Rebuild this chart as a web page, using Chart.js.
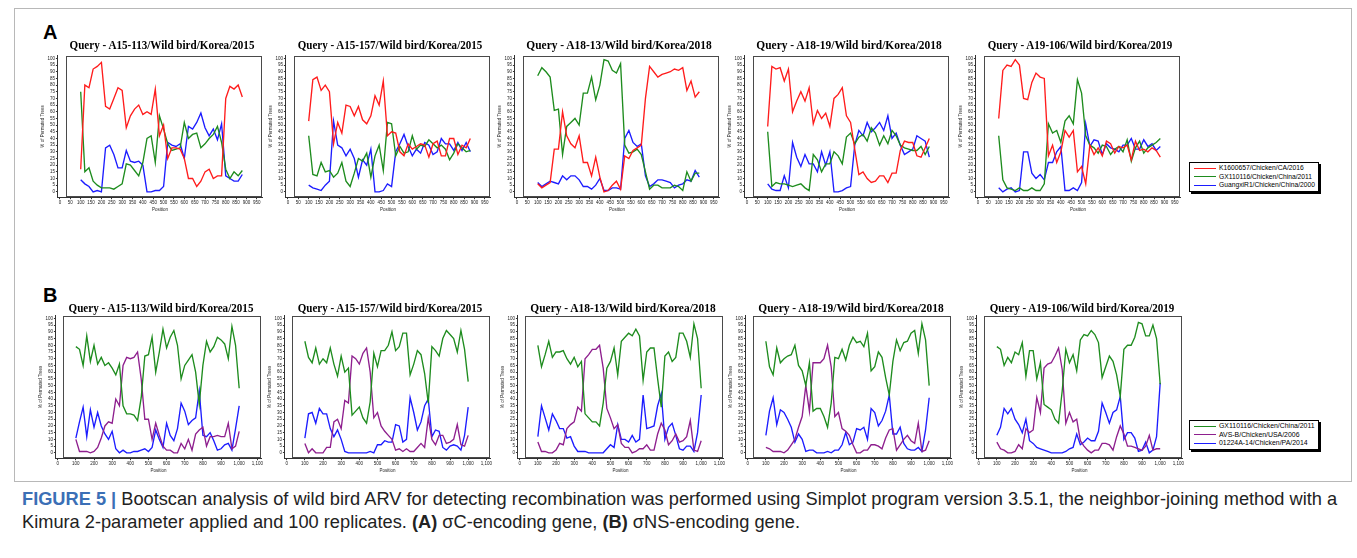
<!DOCTYPE html>
<html>
<head>
<meta charset="utf-8">
<script src="https://cdn.jsdelivr.net/npm/chart.js@4.4.1/dist/chart.umd.min.js"></script>
<style>
  body { margin: 0; width: 1357px; height: 558px; position: relative; overflow: hidden; background: #fff; font-family: "Liberation Sans", Arial, sans-serif; }
  canvas { position: absolute; }
  .title { position: absolute; font: bold 12.3px "Liberation Serif", "Times New Roman", serif; white-space: nowrap; color: #000; }
  .letter { position: absolute; font: bold 20px "Liberation Sans", Arial, sans-serif; color: #000; }
  .legend { position: absolute; width: 128px; border: 1px solid #000; box-shadow: 2px 2px 0 #000; background: #fff; padding: 1px 0; }
  .legend div { height: 8.5px; font-size: 7px; line-height: 8.5px; white-space: nowrap; }
  .legend span { display: inline-block; width: 22px; height: 0; border-top: 1.5px solid; vertical-align: middle; margin: 0 3px 0 4px; }
  .frame { position: absolute; left: 14px; top: 8px; width: 1336px; height: 472px; border: 1px solid #b8b8b8; }
  .cap { position: absolute; left: 22px; white-space: nowrap; color: #222; font-size: 15px; }
  .cap b.fig { color: #3b6fb6; }
</style>
</head>
<body>
<div class="frame"></div>
<div class="letter" style="left:43px;top:21px">A</div>
<div class="letter" style="left:43px;top:284px">B</div>
<div class="cap" id="cap1" style="top:489px"><b class="fig">FIGURE 5 |</b> Bootscan analysis of wild bird ARV for detecting recombination was performed using Simplot program version 3.5.1, the neighbor-joining method with a</div>
<div class="cap" id="cap2" style="top:512px">Kimura 2-parameter applied and 100 replicates. <b>(A)</b> &sigma;C-encoding gene, <b>(B)</b> &sigma;NS-encoding gene.</div>
<script>
// window positions (nt)
const posA = [100,120,140,160,180,200,220,240,260,280,300,320,340,360,380,400,420,440,460,480,500,520,540,560,580,600,620,640,660,680,700,720,740,760,780,800,820,840,860,880];
const posB = [100,120,140,160,180,200,220,240,260,280,300,320,340,360,380,400,420,440,460,480,500,520,540,560,580,600,620,640,660,680,700,720,740,760,780,800,820,840,860,880,900,920,940,960,980,1000];

const xTicksA = [0,50,100,150,200,250,300,350,400,450,500,550,600,650,700,750,800,850,900,950];
const xTickLabelsA = ['0','50','100','150','200','250','300','350','400','450','500','550','600','650','700','750','800','850','900','950'];
const xTicksB = [0,100,200,300,400,500,600,700,800,900,1000,1100];
const xTickLabelsB = ['0','100','200','300','400','500','600','700','800','900','1,000','1,100'];
const yTicks = [0,5,10,15,20,25,30,35,40,45,50,55,60,65,70,75,80,85,90,95,100];

const legendA = ['K1600657/Chicken/CA/2016', 'GX110116/Chicken/China/2011', 'GuangxiR1/Chicken/China/2000'];
const legendB = ['GX110116/Chicken/China/2011', 'AVS-B/Chicken/USA/2006', '01224A-14/Chicken/PA/2014'];

// A: sigma C gene
const a1Red   = [17,80,78,92,94,97,64,62,70,78,76,48,57,62,65,58,60,58,77,42,50,25,33,33,32,25,10,10,4,8,15,17,10,12,12,70,79,77,80,71];
const a1Green = [75,15,18,8,5,3,3,3,2,4,6,21,20,16,12,22,40,42,22,57,47,36,31,32,33,52,40,43,44,33,36,40,43,49,37,17,10,15,12,16];
const a1Blue  = [9,6,4,0,1,0,33,35,28,18,18,31,23,22,23,20,0,0,1,1,4,37,35,34,36,25,49,47,52,59,48,42,47,39,51,12,10,8,8,13];

const a2Red   = [53,84,86,76,80,75,36,52,44,65,64,57,64,54,51,57,72,65,83,42,45,44,30,27,36,32,34,36,35,26,36,38,27,27,40,40,28,35,33,40];
const a2Green = [42,13,12,22,15,16,11,14,22,8,4,14,25,23,29,11,27,35,16,52,51,27,34,29,30,42,32,35,34,39,36,33,35,32,24,29,36,33,30,31];
const a2Blue  = [5,3,2,1,5,8,53,35,33,27,32,25,11,24,20,32,0,0,1,6,4,30,36,43,34,27,32,29,37,35,28,30,40,36,36,31,37,31,37,30];

const a3Red   = [6,3,5,7,32,32,60,42,36,33,42,22,22,12,26,11,0,1,5,8,2,27,25,31,33,35,70,94,90,86,88,89,90,92,91,93,76,83,71,75];
const a3Green = [87,93,90,86,61,62,28,49,52,55,50,74,74,86,69,80,99,98,91,89,96,35,29,30,32,28,15,2,5,5,3,3,3,5,4,1,15,8,14,14];
const a3Blue  = [7,4,6,8,7,6,12,9,12,12,9,4,4,2,5,10,1,1,3,3,2,40,46,37,34,36,12,4,6,9,9,8,7,3,5,6,9,8,16,11];

const a4Red   = [49,94,92,93,83,92,60,68,75,68,78,51,61,55,59,49,70,73,78,57,52,32,13,15,10,7,8,12,12,7,14,14,31,38,37,37,27,26,33,40];
const a4Green = [45,4,7,6,6,5,4,5,6,3,1,28,24,15,21,21,30,27,21,41,44,36,41,43,38,48,44,35,42,36,46,42,35,33,32,31,31,34,28,34];
const a4Blue  = [6,2,1,1,12,3,37,26,19,28,21,21,15,30,20,30,0,0,1,3,4,35,46,42,52,45,48,52,46,57,40,44,35,28,30,32,42,40,38,26];

const a5Red   = [55,91,95,94,99,95,70,69,82,89,86,85,27,35,22,30,46,41,46,15,19,6,35,28,33,27,38,36,29,34,33,35,24,38,31,32,30,33,31,26];
const a5Green = [42,9,3,2,1,3,1,1,3,1,1,6,51,44,46,37,53,57,51,84,74,42,35,33,29,35,34,28,32,34,30,39,23,33,38,29,33,35,37,40];
const a5Blue  = [3,0,2,3,0,1,30,30,14,10,13,9,22,22,30,34,1,1,3,1,7,51,34,39,38,28,36,33,32,30,35,35,40,32,32,39,34,36,31,34];

// B: sigma NS gene
const b1Green  = [79,77,65,87,68,80,66,71,65,67,63,58,66,35,29,29,28,24,41,72,73,86,60,75,92,78,86,91,80,55,65,69,73,60,36,65,83,75,79,86,84,81,70,94,80,48];
const b1Purple = [10,1,1,1,0,1,4,11,20,23,22,40,35,65,71,70,71,75,55,25,25,10,22,13,5,2,2,0,0,7,3,10,2,14,17,19,5,12,12,13,12,12,22,3,5,16];
const b1Blue   = [11,23,34,12,32,19,30,20,14,10,16,3,0,2,0,0,1,1,2,3,1,4,17,10,4,22,13,9,18,37,31,21,24,26,46,13,12,15,9,2,3,6,7,2,18,35];

const b2Green  = [83,71,67,78,66,70,67,78,66,57,72,60,63,28,31,34,26,22,38,74,64,76,76,80,90,76,79,89,89,58,66,76,73,59,37,79,76,72,85,91,88,85,75,91,77,53];
const b2Purple = [7,0,3,0,0,0,4,4,23,25,18,39,37,72,70,66,74,78,60,26,30,20,16,13,10,2,3,1,3,1,1,4,7,4,26,10,6,13,13,7,8,10,21,6,5,13];
const b2Blue   = [11,29,30,22,33,29,29,18,12,17,10,1,0,0,0,0,0,0,1,0,6,6,9,8,8,21,20,8,10,41,30,17,23,35,40,12,17,16,4,2,5,6,5,2,13,34];

const b3Green  = [80,64,73,83,71,75,75,76,70,66,71,64,68,29,26,23,23,20,37,63,68,78,58,83,86,89,87,92,87,54,75,78,78,55,34,72,75,68,71,89,89,83,71,96,85,48];
const b3Purple = [8,1,1,0,0,2,7,6,18,21,23,34,31,70,73,77,77,80,63,33,26,18,21,7,4,4,0,1,3,3,6,2,2,14,22,17,6,9,14,8,9,12,24,2,1,9];
const b3Blue   = [12,35,26,17,29,24,18,18,11,12,5,1,1,1,0,0,0,0,0,3,6,4,21,10,10,8,13,8,10,43,18,19,20,35,44,10,19,22,13,3,2,5,5,1,15,43];

const b4Green  = [83,64,58,78,67,70,72,73,80,65,61,50,67,31,33,33,27,19,37,71,70,77,69,80,86,82,83,79,89,61,64,75,71,56,43,68,84,76,82,83,89,91,74,96,84,50];
const b4Purple = [4,3,1,1,1,0,2,6,10,19,27,50,31,67,67,67,70,80,64,27,30,18,16,13,6,0,0,2,2,6,6,5,3,11,17,18,2,6,10,13,9,7,22,1,2,9];
const b4Blue   = [13,31,41,21,32,30,25,19,8,14,10,1,2,2,0,0,0,1,0,2,2,6,15,6,8,18,17,19,10,33,30,20,24,31,43,14,14,19,7,3,2,2,4,1,17,41];

const b5Green  = [79,77,65,71,67,75,73,82,57,76,76,55,67,36,34,32,25,22,46,77,67,73,61,84,88,87,91,88,82,56,64,72,68,58,42,77,80,80,86,97,96,87,87,95,85,51];
const b5Purple = [8,3,2,0,0,1,6,3,18,15,17,41,30,63,66,67,72,78,62,22,30,23,25,9,5,2,0,2,2,7,7,6,2,12,20,14,5,5,4,3,2,5,13,2,3,3];
const b5Blue   = [13,19,33,29,33,25,21,15,25,9,7,4,3,2,1,0,0,0,0,1,3,4,14,6,8,11,9,9,16,37,30,22,30,32,42,10,15,15,11,1,2,8,0,2,12,52];

const colorsA = ['#ff1c1c', '#1e8c1e', '#1c1cff'];
const colorsB = ['#1e8c1e', '#8e1f8e', '#1c1cff'];

const rowA = {
  pos: posA, ticks: xTicksA, labels: xTickLabelsA, colors: colorsA,
  xMin: -10, xMax: 975, frameLeft: 29, top: 56, w: 204, h: 141, titleY: 45,
  panels: [
    { title: 'Query - A15-113/Wild bird/Korea/2015', series: [a1Red, a1Green, a1Blue], left: 58 },
    { title: 'Query - A15-157/Wild bird/Korea/2015', series: [a2Red, a2Green, a2Blue], left: 286 },
    { title: 'Query - A18-13/Wild bird/Korea/2018', series: [a3Red, a3Green, a3Blue], left: 515 },
    { title: 'Query - A18-19/Wild bird/Korea/2018', series: [a4Red, a4Green, a4Blue], left: 745 },
    { title: 'Query - A19-106/Wild bird/Korea/2019', series: [a5Red, a5Green, a5Blue], left: 976 }
  ]
};
const rowB = {
  pos: posB, ticks: xTicksB, labels: xTickLabelsB, colors: colorsB,
  xMin: -10, xMax: 1122, frameLeft: 27, top: 316, w: 206, h: 142, titleY: 308,
  panels: [
    { title: 'Query - A15-113/Wild bird/Korea/2015', series: [b1Green, b1Purple, b1Blue], left: 56 },
    { title: 'Query - A15-157/Wild bird/Korea/2015', series: [b2Green, b2Purple, b2Blue], left: 285 },
    { title: 'Query - A18-13/Wild bird/Korea/2018', series: [b3Green, b3Purple, b3Blue], left: 518 },
    { title: 'Query - A18-19/Wild bird/Korea/2018', series: [b4Green, b4Purple, b4Blue], left: 746 },
    { title: 'Query - A19-106/Wild bird/Korea/2019', series: [b5Green, b5Purple, b5Blue], left: 977 }
  ]
};

const framePlugin = {
  id: 'frame',
  beforeDatasetsDraw(chart, args, opts) {
    const ctx = chart.ctx, ca = chart.chartArea;
    const l = Math.round(chart.scales.x.getPixelForValue(opts.left)) + 0.5;
    const b = Math.round(chart.scales.y.getPixelForValue(-3)) + 0.5;
    const t = Math.round(ca.top) + 0.5, r = Math.round(ca.right) - 0.5;
    ctx.save();
    ctx.strokeStyle = '#4a4a4a';
    ctx.lineWidth = 1;
    ctx.strokeRect(l, t, r - l, b - t);
    ctx.restore();
  }
};

const tinyFont = { family: '"Liberation Sans", Arial, sans-serif', size: 4.5 };

function chartConfig(row, p) {
  return {
    type: 'line',
    data: {
      datasets: p.series.map((vals, i) => ({
        data: vals.map((v, k) => ({ x: row.pos[k], y: v })),
        borderColor: row.colors[i],
        borderWidth: 1.35,
        pointRadius: 0,
        tension: 0,
        fill: false
      }))
    },
    options: {
      responsive: false,
      maintainAspectRatio: false,
      animation: false,
      events: [],
      layout: { padding: { top: 2, right: 2, left: 0, bottom: 0 } },
      plugins: { legend: { display: false }, tooltip: { enabled: false }, frame: { left: row.frameLeft } },
      scales: {
        x: {
          type: 'linear', min: row.xMin, max: row.xMax,
          afterBuildTicks: s => { s.ticks = row.ticks.map(v => ({ value: v })); },
          ticks: { callback: (v, i) => row.labels[i], font: tinyFont, color: '#222', maxRotation: 0, autoSkip: false, padding: 1 },
          grid: { drawOnChartArea: false, tickLength: 2, color: '#333' },
          border: { color: '#333' },
          title: { display: true, text: 'Position', font: tinyFont, color: '#222', padding: { top: 0, bottom: 0 } }
        },
        y: {
          min: -4, max: 102,
          afterBuildTicks: s => { s.ticks = yTicks.map(v => ({ value: v })); },
          ticks: { callback: (v, i) => String(yTicks[i]), font: tinyFont, color: '#222', autoSkip: false, padding: 1 },
          grid: { drawOnChartArea: false, tickLength: 2, color: '#333' },
          border: { color: '#333' },
          title: { display: true, text: '% of Permuted Trees', font: tinyFont, color: '#222', padding: { top: 0, bottom: 1 } }
        }
      }
    },
    plugins: [framePlugin]
  };
}

function makePanel(row, p) {
  const canvas = document.createElement('canvas');
  canvas.width = row.w + 40;
  canvas.height = row.h + 30;
  document.body.appendChild(canvas);
  let chart = new Chart(canvas, chartConfig(row, p));
  let ca = chart.chartArea;
  const ml = ca.left, mt = ca.top, mr = canvas.width - ca.right, mb = canvas.height - ca.bottom;
  chart.destroy();
  canvas.width = Math.round(row.w + ml + mr);
  canvas.height = Math.round(row.h + mt + mb);
  chart = new Chart(canvas, chartConfig(row, p));
  ca = chart.chartArea;
  canvas.style.left = Math.round(p.left - ca.left) + 'px';
  canvas.style.top = Math.round(row.top - ca.top) + 'px';

  const t = document.createElement('div');
  t.className = 'title';
  t.textContent = p.title;
  document.body.appendChild(t);
  // the reference titles are about 185px wide, in a narrow bold serif
  const k = 185 / t.offsetWidth;
  t.style.left = (p.left + row.w / 2 + 2) + 'px';
  t.style.top = row.titleY + 'px';
  t.style.transform = 'translate(-50%, -50%) scaleX(' + k + ')';
}

function makeLegend(names, colors, left, top) {
  const box = document.createElement('div');
  box.className = 'legend';
  box.style.left = left + 'px';
  box.style.top = top + 'px';
  const texts = [];
  names.forEach((n, i) => {
    const item = document.createElement('div');
    const sw = document.createElement('span');
    sw.style.borderTopColor = colors[i];
    item.appendChild(sw);
    const tx = document.createElement('i');
    tx.style.fontStyle = 'normal';
    tx.textContent = n;
    item.appendChild(tx);
    box.appendChild(item);
    texts.push(tx);
  });
  document.body.appendChild(box);
  const widest = Math.max(...texts.map(t => t.offsetWidth));
  const size = Math.min(7, 7 * 96 / widest);
  box.querySelectorAll('div').forEach(d => { d.style.fontSize = size + 'px'; });
}

rowA.panels.forEach(p => makePanel(rowA, p));
rowB.panels.forEach(p => makePanel(rowB, p));
makeLegend(legendA, colorsA, 1189, 162);
makeLegend(legendB, colorsB, 1189, 420);

// fit caption line 1 to the reference width
const cap1 = document.getElementById('cap1');
const cap2 = document.getElementById('cap2');
const fs = 15 * 1316 / cap1.offsetWidth;
cap1.style.fontSize = fs + 'px';
cap2.style.fontSize = fs + 'px';
</script>
</body>
</html>
